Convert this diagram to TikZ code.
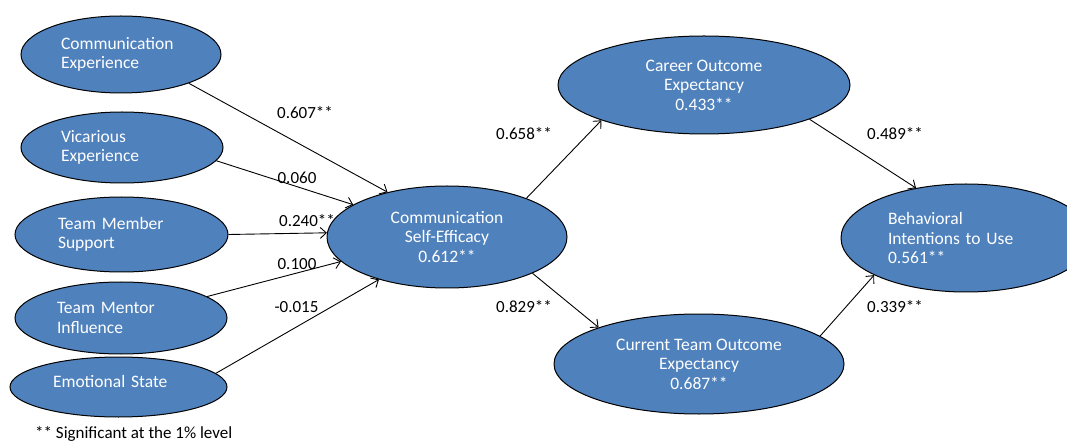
\documentclass[tikz,border=0pt]{standalone}
\usepackage{fontspec}
\setmainfont{Carlito}
\usetikzlibrary{shapes.geometric,arrows.meta}
\definecolor{nodeblue}{HTML}{4F81BD}
\begin{document}
\begin{tikzpicture}[x=1pt,y=-1pt,
  ell/.style={ellipse, draw=black, line width=1pt, fill=nodeblue, text=white, inner sep=0pt,
              font=\fontsize{17.5}{19.5}\selectfont},
  conn/.style={draw=black, line width=0.9pt, -{Straight Barb[length=6pt,width=11pt]}},
  lab/.style={font=\fontsize{17}{19.5}\selectfont, inner sep=0pt, text=black}
]
\useasboundingbox (0,0) rectangle (1067,443);

% source constructs
\node[ell, minimum width=200pt, minimum height=77pt, text width=120pt, align=left] (ce) at (121,54.5) {Communication\\Experience};
\node[ell, minimum width=202pt, minimum height=71pt, text width=122pt, align=left] (ve) at (122,147.5) {Vicarious\\Experience};
\node[ell, minimum width=213pt, minimum height=75pt, text width=127pt, align=left] (tms) at (121.5,234.5) {Team Member\\Support};
\node[ell, minimum width=212pt, minimum height=72pt, text width=128pt, align=left] (tmi) at (121,318) {Team Mentor\\Influence};
\node[ell, minimum width=217pt, minimum height=60pt, text width=131pt, align=left, text depth=12pt, text height=12pt] (es) at (118.5,387) {Emotional State};

% mediator and outcomes
\node[ell, minimum width=240pt, minimum height=102pt, align=center] (cse) at (447,237) {Communication\\Self-Efficacy\\0.612**};
\node[ell, minimum width=292pt, minimum height=98pt, align=center] (coe) at (704,85) {Career Outcome\\Expectancy\\0.433**};
\node[ell, minimum width=290pt, minimum height=100pt, align=center] (cto) at (699,364) {Current Team Outcome\\Expectancy\\0.687**};
\node[ell, minimum width=250pt, minimum height=108pt, text width=156pt, align=left] (bi) at (966,238) {Behavioral\\Intentions to Use\\0.561**};

% connectors
\draw[conn] (ce.-23.1) -- (cse.143.1);
\draw[conn] (ve.-8.8) -- (cse.161.6);
\draw[conn] (tms.0) -- (cse.178);
\draw[conn] (tmi.14.4) -- (cse.193);
\draw[conn] (es.8.1) -- (cse.212);
\draw[conn] (cse.26) -- (coe.199.6);
\draw[conn] (cse.-23.5) -- (cto.160.2);
\draw[conn] (coe.-18.3) -- (bi.135.5);
\draw[conn] (cto.13.9) -- (bi.202.3);

% path coefficients
\node[lab] (l1) at (305,113) {0.607**};
\node[lab] (l2) at (297,178) {0.060};
\node[lab] (l3) at (307,221) {0.240**};
\node[lab] (l4) at (297,264) {0.100};
\node[lab] (l5) at (296.5,307) {-0.015};
\node[lab] (l6) at (524,134) {0.658**};
\node[lab] (l7) at (524,307) {0.829**};
\node[lab] (l8) at (895,134) {0.489**};
\node[lab] (l9) at (895,307) {0.339**};

\node[lab, anchor=base west] (note) at (35,438) {** Significant at the 1\% level};
\end{tikzpicture}
\end{document}
